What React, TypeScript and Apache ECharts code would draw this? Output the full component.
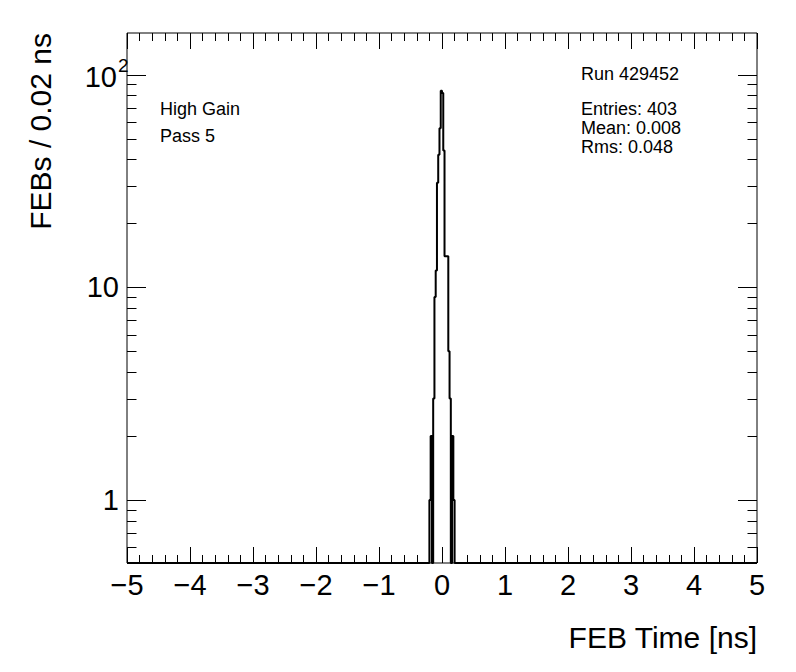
import React, { useEffect, useRef } from 'react';
import * as echarts from 'echarts';

// ---- axis ranges ----
const X_MIN = -5;
const X_MAX = 5;
const X_INTERVAL = 1;
const Y_MIN = 0.5052;
const Y_MAX = 157.1;

// ---- histogram data (bin width 0.02 ns, first listed bin starts at -0.2 ns; all other bins are empty) ----
const BIN_WIDTH = 0.02;
const PEAK_START = -0.2;
const peakCounts = [1, 2, 0, 3, 9, 12, 31, 42, 56, 84, 82, 44, 14, 14, 14, 5, 3, 0, 2, 1, 0];

// ---- tick values / labels ----
const yMajorValues = [1, 10, 100];
const yMajorLabels = ['1', '10', '10'];
const yMajorSups = ['', '', '2'];
const yMinorValues = [0.6, 0.7, 0.8, 0.9, 2, 3, 4, 5, 6, 7, 8, 9, 20, 30, 40, 50, 60, 70, 80, 90];

// ---- texts ----
const xTitle = 'FEB Time [ns]';
const yTitle = 'FEBs / 0.02 ns';
const runLabel = 'Run 429452';
const statsLines = ['Entries: 403', 'Mean: 0.008', 'Rms: 0.048'];
const infoLines = ['High Gain', 'Pass 5'];

const FONT = "'Liberation Sans', Arial, Helvetica, sans-serif";

function buildOutline(): number[][] {
  const nBins = Math.round((X_MAX - X_MIN) / BIN_WIDTH);
  const startIdx = Math.round((PEAK_START - X_MIN) / BIN_WIDTH);
  const counts = new Array(nBins).fill(0);
  peakCounts.forEach((c, i) => {
    counts[startIdx + i] = c;
  });
  // empty bins are drawn on the bottom edge of the frame (log scale)
  const pts = counts.map((c, i) => [X_MIN + i * BIN_WIDTH, c > 0 ? c : Y_MIN]);
  const last = counts[nBins - 1];
  pts.push([X_MAX, last > 0 ? last : Y_MIN]);
  return pts;
}

function buildOption(): any {
  const outline = buildOutline();
  const yTickData = [
    ...yMajorValues.map((v) => [0, v, 1]),
    ...yMinorValues.map((v) => [0, v, 0]),
  ];
  const yLabelData = yMajorValues.map((v, i) => [0, v, i]);

  const xAxisCommon = {
    type: 'value',
    min: X_MIN,
    max: X_MAX,
    interval: X_INTERVAL,
    axisLine: { show: false },
    axisTick: { show: true, inside: true, length: 16, lineStyle: { color: '#000', width: 1 } },
    minorTick: { show: true, splitNumber: 5, length: 8, lineStyle: { color: '#000', width: 1 } },
    splitLine: { show: false },
    minorSplitLine: { show: false },
  };

  return {
    animation: false,
    backgroundColor: '#fff',
    grid: {
      left: 127,
      top: 33,
      width: 630,
      height: 530,
      show: true,
      borderColor: '#000',
      borderWidth: 1,
      backgroundColor: 'transparent',
    },
    xAxis: [
      {
        ...xAxisCommon,
        position: 'bottom',
        axisLabel: {
          show: true,
          color: '#000',
          fontFamily: FONT,
          fontSize: 29,
          margin: 7,
          formatter: (v: number) => (v < 0 ? '\u2212' + Math.abs(v) : String(v)),
        },
      },
      {
        ...xAxisCommon,
        position: 'top',
        axisLabel: { show: false },
      },
    ],
    yAxis: [
      {
        type: 'log',
        logBase: 10,
        min: Y_MIN,
        max: Y_MAX,
        axisLine: { show: false },
        axisTick: { show: false },
        axisLabel: { show: false },
        splitLine: { show: false },
      },
    ],
    series: [
      {
        type: 'line',
        data: outline,
        step: 'end',
        showSymbol: false,
        symbol: 'none',
        clip: true,
        lineStyle: { color: '#000', width: 2 },
        z: 3,
      },
      {
        type: 'custom',
        data: yTickData,
        encode: { x: 0, y: 1 },
        silent: true,
        z: 4,
        renderItem: (params: any, api: any) => {
          const v = api.value(1);
          const major = api.value(2) === 1;
          const len = major ? 19 : 9.5;
          const l = api.coord([X_MIN, v]);
          const r = api.coord([X_MAX, v]);
          const y = Math.round(l[1]) + 0.5;
          return {
            type: 'group',
            children: [
              { type: 'line', shape: { x1: l[0], y1: y, x2: l[0] + len, y2: y }, style: { stroke: '#000', lineWidth: 1 } },
              { type: 'line', shape: { x1: r[0], y1: y, x2: r[0] - len, y2: y }, style: { stroke: '#000', lineWidth: 1 } },
            ],
          };
        },
      },
      {
        type: 'custom',
        data: yLabelData,
        encode: { x: 0, y: 1 },
        silent: true,
        z: 4,
        renderItem: (params: any, api: any) => {
          const v = api.value(1);
          const i = api.value(2);
          const p = api.coord([X_MIN, v]);
          const sup = yMajorSups[i];
          const children: any[] = [];
          if (sup) {
            children.push({
              type: 'text',
              x: p[0] - 10,
              y: p[1] + 2,
              style: { text: yMajorLabels[i], font: `29px ${FONT}`, fill: '#000', align: 'right', verticalAlign: 'middle' },
            });
            children.push({
              type: 'text',
              x: p[0] - 9,
              y: p[1] - 9,
              style: { text: sup, font: `19px ${FONT}`, fill: '#000', align: 'left', verticalAlign: 'middle' },
            });
          } else {
            children.push({
              type: 'text',
              x: p[0] - 8,
              y: p[1],
              style: { text: yMajorLabels[i], font: `29px ${FONT}`, fill: '#000', align: 'right', verticalAlign: 'middle' },
            });
          }
          return { type: 'group', children };
        },
      },
    ],
    graphic: [
      {
        type: 'text',
        x: 757,
        y: 637,
        style: { text: xTitle, font: `30px ${FONT}`, fill: '#000', align: 'right', verticalAlign: 'middle' },
      },
      {
        type: 'text',
        x: 40,
        y: 33,
        rotation: Math.PI / 2,
        style: { text: yTitle, font: `30px ${FONT}`, fill: '#000', align: 'right', verticalAlign: 'middle' },
      },
      {
        type: 'text',
        x: 581,
        y: 74,
        style: { text: runLabel, font: `18px ${FONT}`, fill: '#000', align: 'left', verticalAlign: 'middle' },
      },
      ...statsLines.map((t, i) => ({
        type: 'text',
        x: 581,
        y: 109 + i * 19,
        style: { text: t, font: `18px ${FONT}`, fill: '#000', align: 'left', verticalAlign: 'middle' },
      })),
      ...infoLines.map((t, i) => ({
        type: 'text',
        x: 160,
        y: 109 + i * 27,
        style: { text: t, font: `18px ${FONT}`, fill: '#000', align: 'left', verticalAlign: 'middle' },
      })),
    ],
  };
}

export default function App() {
  const ref = useRef<HTMLDivElement>(null);
  useEffect(() => {
    if (!ref.current) return;
    const chart = echarts.init(ref.current, null, { renderer: 'svg' });
    chart.setOption(buildOption());
    return () => {
      chart.dispose();
    };
  }, []);
  return (
    <div
      ref={ref}
      style={{ position: 'fixed', left: 0, top: 0, width: 796, height: 672, background: '#fff' }}
    />
  );
}
